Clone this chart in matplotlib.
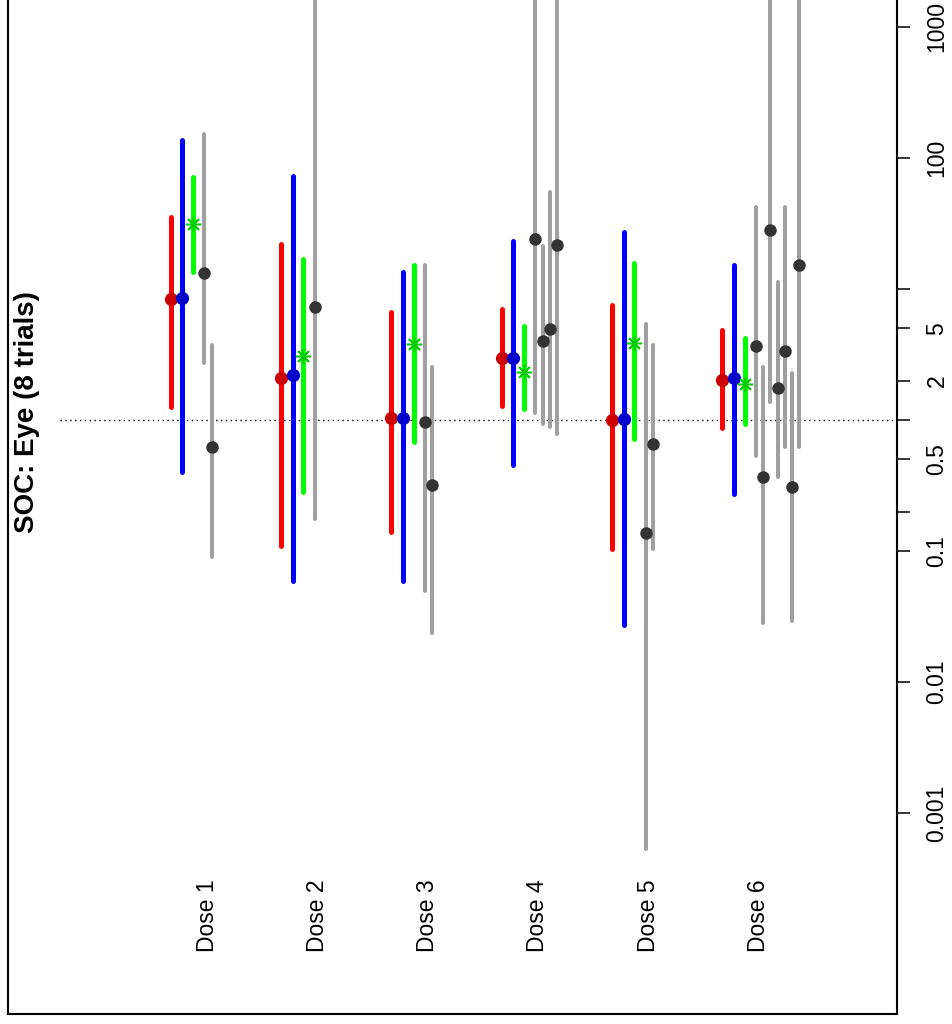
import numpy as np
import matplotlib
matplotlib.use("Agg")
import matplotlib.pyplot as plt
from matplotlib.ticker import FixedLocator, FixedFormatter, NullLocator
from matplotlib.transforms import blended_transform_factory

plt.rcParams['font.family'] = ['Liberation Sans', 'DejaVu Sans']

# ---------------- data ----------------
doses = ["Dose 1", "Dose 2", "Dose 3", "Dose 4", "Dose 5", "Dose 6"]
title = "SOC: Eye (8 trials)"

red_est = [8.4, 2.08, 1.03, 2.96, 1.0, 2.03]
red_lo = [1.25, 0.11, 0.14, 1.29, 0.104, 0.87]
red_hi = [35.3, 22.1, 6.71, 7.03, 7.56, 4.83]

blue_est = [8.5, 2.2, 1.03, 2.96, 1.01, 2.1]
blue_lo = [0.40, 0.059, 0.059, 0.453, 0.0272, 0.274]
blue_hi = [137, 73.3, 13.6, 23.4, 27.4, 15.2]

green_est = [31.2, 3.1, 3.78, 2.34, 3.87, 1.89]
green_lo = [13.6, 0.284, 0.683, 1.21, 0.716, 0.93]
green_hi = [71.2, 16.9, 15.2, 5.22, 15.7, 4.2]

trial_est = [[13.2, 0.625], [7.33], [0.97, 0.319], [24.1, 4.01, 4.95, 21.7],
             [0.137, 0.656], [3.69, 0.364, 28.1, 1.76, 3.39, 0.308, 15.2]]
trial_lo = [[2.71, 0.0905], [0.175], [0.0495, 0.0238], [1.14, 0.93, 0.89, 0.78],
            [0.00053, 0.104], [0.53, 0.0282, 1.37, 0.364, 0.622, 0.0292, 0.622]]
trial_hi = [[152, 3.74], [5000], [15.2, 2.55], [5000, 21.3, 55.3, 5000],
            [5.41, 3.76], [42.3, 2.56, 5000, 11.3, 42.3, 2.28, 5000]]

tick_vals = [0.001, 0.01, 0.1, 0.2, 0.5, 1, 2, 5, 10, 100, 1000]
tick_labels = ["0.001", "0.01", "0.1", "", "0.5", "", "2", "5", "", "100", "1000"]

# ---------------- layout ----------------
W, H = 953, 1024
fig = plt.figure(figsize=(W / 100, H / 100), dpi=100)
ax = fig.add_axes([8 / W, 10 / H, (897 - 8) / W, 1014 / H])

ax.set_yscale('log')
ax.set_ylim(10 ** (-(1014 - 420) / 131), 10 ** (420 / 131))
ax.set_xlim(-1.475, 6.585)

off_red, off_blue, off_green = 0.0, 0.106, 0.204
off_trial0, trial_step = 0.305, 0.066

lw_main = 3.6
lw_trial = 2.9

for g in range(len(doses)):
    # red
    ax.plot([g + off_red] * 2, [red_lo[g], red_hi[g]], color='#FF0000', lw=lw_main,
            solid_capstyle='round', zorder=2)
    ax.plot(g + off_red, red_est[g], 'o', color='#CC0000', ms=9.5, mew=0, zorder=3)
    # blue
    ax.plot([g + off_blue] * 2, [blue_lo[g], blue_hi[g]], color='#0000FF', lw=lw_main,
            solid_capstyle='round', zorder=2)
    ax.plot(g + off_blue, blue_est[g], 'o', color='#0000CC', ms=9.5, mew=0, zorder=3)
    # green
    ax.plot([g + off_green] * 2, [green_lo[g], green_hi[g]], color='#00FF00', lw=lw_main,
            solid_capstyle='round', zorder=2)
    ax.plot(g + off_green, green_est[g], marker=(8, 2, 0), color='#00CC00', ms=11,
            mew=1.1, ls='none', zorder=3)
    # trials
    for k, (e, lo, hi) in enumerate(zip(trial_est[g], trial_lo[g], trial_hi[g])):
        x = g + off_trial0 + k * trial_step
        ax.plot([x, x], [lo, hi], color='#A0A0A0', lw=lw_trial,
                solid_capstyle='round', zorder=2)
        ax.plot(x, e, 'o', color='#333333', ms=9, mew=0, zorder=3)

# reference line at 1
ax.plot([-1.0, 6.585], [1, 1], color='black', lw=1.0, dashes=(1, 2.5), zorder=1)

# axes styling
for s in ['top']:
    ax.spines[s].set_visible(False)
for s in ['left', 'bottom', 'right']:
    ax.spines[s].set_linewidth(1.5)
ax.set_xticks([])
ax.yaxis.tick_right()
ax.yaxis.set_major_locator(FixedLocator(tick_vals))
ax.yaxis.set_major_formatter(FixedFormatter(tick_labels))
ax.yaxis.set_minor_locator(NullLocator())
ax.tick_params(axis='y', which='major', direction='out', length=9.5, width=1.1,
               pad=11, labelsize=16.5, labelrotation=90)
for lab in ax.get_yticklabels():
    lab.set_va('center')

# dose labels
tr = blended_transform_factory(ax.transData, fig.transFigure)
for g, name in enumerate(doses):
    ax.text(g + 0.33, 1 - 916 / H, name, transform=tr, rotation=90,
            ha='center', va='center', fontsize=16.5)

# title on the left
fig.text(27.5 / W, 1 - 412 / H, title, rotation=90, ha='center', va='center',
         fontsize=20, fontweight='bold')

fig.savefig('out.png', dpi=100)
